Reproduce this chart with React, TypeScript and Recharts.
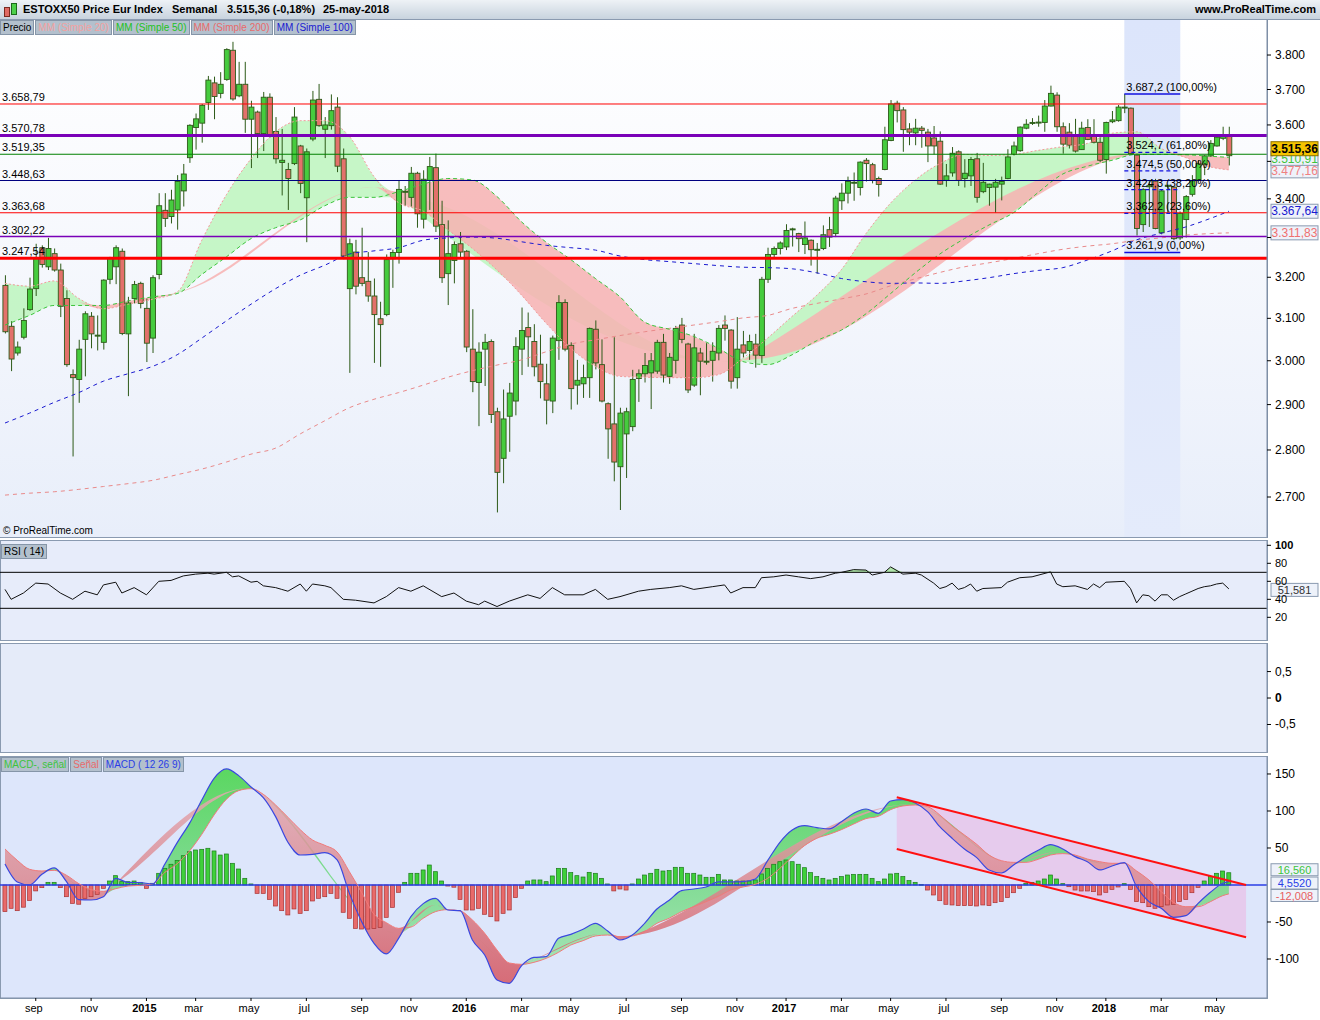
import React from "react";
import {
  ComposedChart,
  Bar,
  Line,
  Area,
  XAxis,
  YAxis,
  ReferenceLine,
  ReferenceArea,
} from "recharts";

// weekly candles, index 0 = week of 28-jul-2014, 199 = week of 21-may-2018
const openP = [
  3180, 3081, 3018, 3055, 3121, 3172, 3274, 3226, 3259, 3218,
  3148, 2968, 2957, 3050, 3105, 3058, 3043, 3195, 3226, 3265,
  3063, 3148, 3185, 3124, 3053, 3207, 3370, 3354, 3371, 3421,
  3510, 3593, 3605, 3663, 3719, 3689, 3729, 3814, 3682, 3715,
  3616, 3636, 3576, 3678, 3582, 3497, 3478, 3494, 3542, 3403,
  3561, 3672, 3588, 3598, 3650, 3507, 3172, 3263, 3199, 3190,
  3154, 3099, 3109, 3246, 3262, 3419, 3404, 3468, 3347, 3449,
  3483, 3333, 3209, 3242, 3284, 3265, 3027, 2950, 3027, 3045,
  2884, 2782, 2874, 2908, 3027, 3078, 3045, 2992, 2947, 2908,
  3047, 3138, 3036, 2944, 2947, 2961, 3074, 2991, 2902, 2857,
  2764, 2835, 2851, 2959, 2970, 2972, 2976, 3043, 2964, 3001,
  3084, 3039, 2944, 3018, 2998, 3001, 3018, 3084, 3072, 2961,
  3037, 3024, 3039, 3012, 3195, 3257, 3272, 3276, 3320, 3310,
  3282, 3293, 3270, 3272, 3320, 3310, 3395, 3415, 3442, 3430,
  3503, 3491, 3454, 3478, 3557, 3661, 3642, 3589, 3578, 3591,
  3580, 3564, 3555, 3449, 3469, 3526, 3454, 3461, 3507, 3419,
  3430, 3431, 3439, 3454, 3519, 3529, 3591, 3605, 3606, 3607,
  3653, 3684, 3595, 3580, 3572, 3532, 3593, 3568, 3552, 3505,
  3609, 3612, 3648, 3647, 3517, 3333, 3432, 3447, 3312, 3433,
  3431, 3299, 3346, 3412, 3450, 3491, 3515, 3542, 3563, 3572,
];
const highP = [
  3205, 3093, 3045, 3124, 3199, 3284, 3280, 3299, 3272, 3234,
  3168, 2980, 3049, 3117, 3115, 3107, 3195, 3251, 3280, 3272,
  3152, 3191, 3189, 3148, 3205, 3415, 3415, 3424, 3463, 3493,
  3602, 3632, 3659, 3739, 3737, 3750, 3820, 3839, 3780, 3780,
  3668, 3640, 3693, 3689, 3622, 3589, 3496, 3650, 3545, 3535,
  3696, 3716, 3622, 3686, 3678, 3535, 3297, 3294, 3325, 3263,
  3197, 3140, 3257, 3269, 3450, 3434, 3485, 3472, 3476, 3512,
  3521, 3395, 3344, 3290, 3314, 3268, 3122, 3043, 3063, 3050,
  2893, 2934, 2949, 3055, 3126, 3114, 3086, 3061, 2993, 3059,
  3156, 3146, 3043, 3002, 2991, 3078, 3095, 3050, 2905, 3055,
  2893, 2893, 2979, 2980, 3018, 3018, 3049, 3063, 3018, 3082,
  3101, 3042, 3063, 3030, 3041, 3043, 3084, 3107, 3074, 3103,
  3070, 3061, 3063, 3201, 3274, 3277, 3290, 3334, 3325, 3312,
  3341, 3295, 3286, 3331, 3353, 3408, 3441, 3459, 3470, 3500,
  3509, 3496, 3459, 3595, 3670, 3668, 3650, 3605, 3617, 3597,
  3589, 3597, 3582, 3493, 3539, 3530, 3506, 3512, 3523, 3496,
  3440, 3453, 3459, 3533, 3554, 3596, 3616, 3619, 3626, 3670,
  3711, 3692, 3607, 3605, 3617, 3609, 3616, 3616, 3570, 3609,
  3639, 3656, 3687, 3649, 3521, 3428, 3450, 3453, 3424, 3437,
  3432, 3367, 3410, 3463, 3503, 3517, 3558, 3570, 3595, 3595,
];
const lowP = [
  3064, 2976, 3012, 3050, 3118, 3154, 3224, 3218, 3214, 3103,
  2986, 2786, 2904, 2964, 3029, 3024, 3026, 3183, 3183, 3060,
  2919, 3136, 3124, 2997, 3018, 3195, 3327, 3336, 3320, 3380,
  3496, 3532, 3551, 3642, 3616, 3675, 3725, 3668, 3678, 3578,
  3482, 3509, 3528, 3565, 3494, 3409, 3371, 3490, 3415, 3288,
  3555, 3595, 3509, 3587, 3471, 3245, 2972, 3158, 3178, 3140,
  2995, 2986, 3105, 3174, 3234, 3382, 3380, 3325, 3323, 3371,
  3314, 3186, 3132, 3185, 3246, 3020, 2928, 2852, 2942, 2859,
  2668, 2729, 2796, 2876, 2967, 2986, 2964, 2914, 2856, 2881,
  3002, 3022, 2889, 2900, 2915, 2915, 2980, 2905, 2781, 2733,
  2673, 2740, 2841, 2906, 2950, 2890, 2970, 2950, 2947, 2970,
  3041, 2926, 2940, 2921, 2991, 2952, 3001, 3047, 2936, 2936,
  3007, 3002, 2984, 2995, 3186, 3246, 3257, 3268, 3277, 3263,
  3258, 3229, 3209, 3268, 3276, 3301, 3371, 3388, 3395, 3409,
  3446, 3441, 3406, 3476, 3555, 3607, 3526, 3544, 3544, 3537,
  3498, 3519, 3437, 3432, 3459, 3434, 3430, 3434, 3390, 3415,
  3382, 3364, 3396, 3452, 3516, 3526, 3588, 3600, 3595, 3581,
  3652, 3581, 3521, 3535, 3524, 3531, 3558, 3549, 3498, 3467,
  3605, 3609, 3633, 3519, 3305, 3314, 3327, 3321, 3308, 3363,
  3293, 3294, 3300, 3406, 3446, 3463, 3512, 3540, 3558, 3489,
];
const closeP = [
  3068, 3004, 3032, 3095, 3171, 3248, 3232, 3272, 3218, 3129,
  2991, 2961, 3027, 3111, 3063, 3060, 3193, 3248, 3274, 3064,
  3137, 3182, 3136, 3041, 3199, 3382, 3349, 3397, 3446, 3466,
  3599, 3617, 3655, 3727, 3680, 3715, 3816, 3673, 3715, 3616,
  3650, 3576, 3678, 3570, 3507, 3503, 3454, 3622, 3441, 3526,
  3670, 3598, 3600, 3640, 3487, 3253, 3284, 3178, 3185, 3154,
  3109, 3085, 3244, 3262, 3425, 3420, 3468, 3361, 3452, 3486,
  3329, 3199, 3259, 3282, 3263, 3032, 2952, 3020, 3043, 2878,
  2752, 2868, 2926, 3033, 3071, 3056, 2986, 2952, 2910, 3053,
  3138, 3027, 2936, 2955, 2961, 3076, 2995, 2908, 2846, 2774,
  2881, 2884, 2957, 2970, 2989, 3000, 3043, 2967, 3008, 3076,
  3050, 2933, 3030, 2999, 2999, 3022, 3076, 3076, 2953, 3027,
  3018, 3045, 3013, 3195, 3257, 3272, 3286, 3318, 3322, 3297,
  3299, 3269, 3270, 3307, 3301, 3402, 3415, 3446, 3444, 3498,
  3494, 3449, 3438, 3559, 3659, 3640, 3587, 3580, 3591, 3585,
  3542, 3542, 3439, 3461, 3522, 3449, 3468, 3505, 3404, 3444,
  3439, 3444, 3446, 3512, 3542, 3594, 3602, 3607, 3608, 3653,
  3689, 3595, 3547, 3544, 3528, 3591, 3560, 3552, 3503, 3607,
  3614, 3650, 3650, 3521, 3323, 3425, 3435, 3323, 3421, 3436,
  3297, 3362, 3406, 3448, 3494, 3515, 3549, 3566, 3570, 3515.36,
];

// moving averages, read every 4 weeks
const maIdx = [
  0, 4, 8, 12, 16, 20, 24, 28, 32, 36, 40, 44, 48, 52, 56, 60, 64, 68, 72, 76,
  80, 84, 88, 92, 96, 100, 104, 108, 112, 116, 120, 124, 128, 132, 136, 140,
  144, 148, 152, 156, 160, 164, 168, 172, 176, 180, 184, 188, 192, 196, 199,
];
const mm20 = [
  3185, 3178, 3191, 3148, 3123, 3134, 3146, 3164, 3293, 3411, 3507, 3581, 3612,
  3612, 3568, 3459, 3390, 3368, 3320, 3272, 3218, 3156, 3088, 3029, 2987, 2964,
  2962, 2961, 2961, 2968, 3006, 3053, 3105, 3156, 3219, 3310, 3389, 3450, 3494,
  3519, 3516, 3519, 3530, 3540, 3549, 3577, 3581, 3535, 3510, 3485, 3477.16,
];
const mm50 = [
  3084, 3107, 3131, 3131, 3131, 3142, 3152, 3160, 3207, 3251, 3297, 3325, 3345,
  3382, 3404, 3404, 3419, 3439, 3454, 3450, 3406, 3340, 3288, 3244, 3197, 3152,
  3091, 3074, 3057, 3029, 2998, 2991, 3014, 3047, 3072, 3111, 3160, 3211, 3258,
  3297, 3332, 3364, 3417, 3466, 3487, 3503, 3519, 3519, 3518, 3514, 3510.91,
];
const mm100 = [
  2859, 2881, 2905, 2927, 2953, 2970, 2987, 3014, 3053, 3094, 3134, 3172, 3205,
  3230, 3258, 3266, 3274, 3293, 3299, 3301, 3298, 3289, 3280, 3274, 3268, 3253,
  3244, 3239, 3234, 3229, 3225, 3224, 3221, 3211, 3197, 3189, 3185, 3186, 3185,
  3191, 3199, 3209, 3217, 3224, 3243, 3266, 3294, 3311, 3327, 3349, 3367.64,
];
const mm200 = [
  2704, 2708, 2711, 2716, 2722, 2728, 2735, 2747, 2759, 2774, 2791, 2804, 2835,
  2864, 2893, 2912, 2927, 2944, 2962, 2977, 2990, 3002, 3021, 3039, 3049, 3059,
  3068, 3076, 3084, 3092, 3101, 3107, 3124, 3136, 3147, 3159, 3179, 3196, 3212,
  3226, 3236, 3247, 3259, 3270, 3278, 3284, 3293, 3299, 3306, 3310, 3311.83,
];

// RSI(14)
const rsiIdx = [
  0, 1, 3, 5, 7, 9, 11, 13, 15, 16, 18, 19, 21, 23, 25, 27, 29, 31, 33, 34, 36,
  37, 38, 40, 41, 42, 44, 45, 46, 48, 49, 50, 52, 53, 55, 57, 60, 62, 64, 66,
  68, 71, 73, 75, 77, 78, 80, 82, 85, 87, 89, 91, 94, 96, 98, 100, 103, 105,
  108, 110, 112, 115, 117, 118, 120, 122, 123, 125, 127, 129, 131, 133, 135,
  136, 138, 140, 141, 143, 144, 146, 148, 149, 151, 152, 153, 154, 155, 156,
  157, 158, 159, 162, 163, 165, 167, 170, 171, 172, 174, 176, 177, 178, 179,
  182, 183, 184, 185, 186, 187, 188, 189, 190, 191, 192, 193, 194, 195, 196,
  197, 198, 199,
];
const rsiVal = [
  51, 40, 47, 58, 57, 47, 40, 49, 45, 56, 59, 47, 53, 45, 60, 61, 66, 68, 69,
  68, 70, 65, 66, 59, 60, 55, 53, 51, 49, 57, 49, 57, 55, 53, 40, 39, 36, 43,
  53, 49, 55, 43, 47, 38, 34, 38, 32, 38, 45, 41, 53, 45, 45, 51, 40, 43, 49,
  51, 53, 55, 51, 54, 56, 47, 53, 53, 64, 65, 67, 65, 63, 65, 69, 70, 73,
  72.5, 67, 70, 76, 68, 69, 67, 58, 52, 54, 58, 51, 53, 57, 49, 52, 53, 59, 64,
  65, 70.5, 57, 54, 55, 51, 57, 53, 59, 60, 52, 36, 45, 44, 38, 45, 45, 39, 43,
  46, 49, 52, 54, 55, 57, 58, 51.58,
];

// MACD(12,26,9), lines read every 2 weeks
const macdIdx = [
  0, 2, 4, 6, 8, 10, 12, 14, 16, 18, 20, 22, 24, 26, 28, 30, 32, 34, 36, 38,
  40, 42, 44, 46, 48, 50, 52, 54, 56, 58, 60, 62, 64, 66, 68, 70, 72, 74, 76,
  78, 80, 82, 84, 86, 88, 90, 92, 94, 96, 98, 100, 102, 104, 106, 108, 110,
  112, 114, 116, 118, 120, 122, 124, 126, 128, 130, 132, 134, 136, 138, 140,
  142, 144, 146, 148, 150, 152, 154, 156, 158, 160, 162, 164, 166, 168, 170,
  172, 174, 176, 178, 180, 182, 184, 186, 188, 190, 192, 194, 196, 198, 199,
];
const macdLine = [
  28.4, 4.1, 0, 14.4, 23, 4.5, -19.8, -20.3, -15.8, 9, 3.6, 3.2, 1.4, 28.4,
  57.2, 83.3, 114.9, 144.2, 156.8, 147.8, 132.5, 118, 92.4, 57.7, 40.5, 41.4,
  43.7, 33.8, -11.3, -49.6, -78.8, -93.2, -72.1, -42.8, -25.2, -18, -33.8,
  -34.7, -74.3, -94.6, -128.4, -132.9, -109, -97.8, -96.9, -72.1, -66.7, -59.9,
  -51.8, -62.2, -74.3, -67.6, -51.8, -32.4, -20.7, -7.7, -5.4, -2.7, 4.1, 4.1,
  4.5, 8.1, 32.9, 57.7, 74.3, 80.2, 77.5, 75.7, 85.6, 96.9, 102.7, 96.9, 113.5,
  115.3, 110.8, 99.1, 78.8, 63.1, 48.7, 37, 20.3, 16.2, 27, 37.8, 46.9, 54.5,
  48.7, 38.3, 31.5, 20.3, 25.7, 30.2, -2.3, -22.5, -31.5, -43.7, -41.4, -24.8,
  -9.9, 2.3, 4.552,
];
const signalLine = [
  48.7, 33.3, 21.2, 18.9, 19.8, 13.1, 1.8, -6.3, -8.6, -5, -1.4, -0.5, 1.4,
  17.1, 28.8, 45.9, 68.5, 94.6, 115.8, 127.5, 130.2, 122.5, 108.1, 91.5, 74.8,
  60.8, 53.6, 44.6, 18, -10.4, -39.6, -50.9, -58.6, -56.8, -45, -36, -33.3,
  -35.1, -47.3, -65.3, -87.8, -105.4, -107.2, -104.5, -99.1, -91, -81.1, -75.2,
  -68.9, -67.6, -69.8, -68.9, -63.1, -51.8, -45, -36, -29.3, -22.5, -15.3,
  -6.8, -2.7, 0.9, 9, 22.5, 38.3, 53.2, 63.1, 68.5, 74.8, 82.4, 89.7, 92.8,
  101.8, 106.8, 108.1, 105.9, 94.6, 79.7, 67.6, 55, 40.5, 32.9, 30.6, 30.6,
  34.7, 40.5, 42.4, 40.5, 35.1, 31.5, 29.3, 29.3, 18.9, 6.8, -9, -23.4, -29.3,
  -29.3, -22.5, -14.4, -12.008,
];
const macdHist = [
  -36, -31.5, -34.7, -30, -21, -8, -3.6, 3.6, 3.6, -3.6,
  -15.8, -24.8, -26, -18, -15.8, -12.6, -4.5, 5.4, 12.6, 4.5,
  4.5, 5.4, 3.6, -4.5, 2.3, 15.8, 22.5, 28, 33.3, 39.6,
  45, 47.3, 48.2, 49.6, 46, 40.5, 41.9, 29.3, 21.6, 9,
  1.4, -11.3, -11.3, -19.4, -28.4, -34.7, -40.5, -32.4, -38.3, -34.7,
  -21.6, -18, -15.8, -11.3, -18, -36.9, -45, -58.6, -59.5, -59.5,
  -58.6, -57.2, -43.7, -30.2, -9.9, 3.6, 15.8, 15.8, 20.3, 27,
  18, 5.4, -1.4, -3, -19.4, -33.8, -33.8, -31.5, -39.6, -42.8,
  -48.6, -38.3, -33.8, -17, -4.5, 5.4, 6.8, 6.8, 4.5, 12.2,
  22.5, 22.5, 16.7, 12.6, 10.8, 17.1, 15.8, 9, 1.4, -8,
  -5.4, -6.8, 1.4, 8.1, 13.5, 15.8, 21.2, 18.9, 19.4, 23.9,
  23.9, 15.8, 15.8, 13.5, 10.4, 10.4, 14.4, 6.8, 6.8, 5.4,
  5.4, 5.4, 6.8, 14.9, 22.5, 28, 31.5, 33.8, 31.5, 28,
  23.4, 16.7, 11.3, 9, 6.8, 9, 11.3, 13.5, 14.4, 14.4,
  14.4, 9, 4.5, 8.1, 14.9, 15.8, 11.3, 5.9, 3.6, 0.5,
  -6.8, -13.5, -21.2, -26.1, -27, -27.9, -27.9, -27.9, -28.4, -27,
  -27.9, -23.9, -22.5, -17.1, -10.4, -4.5, 2.3, 3.6, 5.4, 8.1,
  13.5, 8.1, 1.8, -2.3, -6.8, -8.1, -8.1, -9, -13.5, -9.9,
  -5.9, -2.7, 1.8, -5.9, -22.5, -23.9, -29.3, -31.5, -29.3, -27,
  -26.1, -22.5, -19.4, -10.4, -3.2, 5.4, 11.3, 15.8, 18.9, 16.56,
];

// descending channel drawn on the MACD (index, value)
const chanX = [145, 201.8];
const chanUpper = [118.5, 0];
const chanLower = [48.6, -70.7];

// drawn levels on the price panel
const levels = [3658.79, 3570.78, 3519.35, 3448.63, 3363.68, 3302.22, 3247.54];
const levelColor = ["#ff0000", "#7a00b8", "#008000", "#000080", "#ff0000", "#7a00b8", "#ff0000"];
const levelWidth = [1, 3, 1.2, 1, 1.2, 1.5, 3];

// Fibonacci retracement (drawn between weeks 182 and 191)
const fibX = [182, 191.1];
const fibVals = [3687.2, 3524.7, 3474.5, 3424.3, 3362.2, 3261.9];
const fibPct = ["100,00", "61,80", "50,00", "38,20", "23,60", "0,00"];

const priceTicks = [2700, 2800, 2900, 3000, 3100, 3200, 3300, 3400, 3500, 3600, 3700, 3800];
const priceHidden = [3300, 3500]; // covered by the value boxes
const rsiTicks = [20, 40, 60, 80, 100];
const macdTicks = [-100, -50, 50, 100, 150];

const monthIdx = [5, 14, 23, 31, 40, 49, 58, 66, 75, 84, 92, 101, 110, 119, 127, 136, 144, 153, 162, 171, 179, 188, 197];
const monthLbl = ["sep", "nov", "2015", "mar", "may", "jul", "sep", "nov", "2016", "mar", "may", "jul", "sep", "nov", "2017", "mar", "may", "jul", "sep", "nov", "2018", "mar", "may"];

const FONT = '"Liberation Sans", Arial, sans-serif';
const X_DOM: [number, number] = [-0.813, 205.2];
const W = 1320;
const AXW = 53;

const fmtEs = (v: number, dec: number) => {
  const [a, b] = v.toFixed(dec).split(".");
  const neg = a.startsWith("-");
  const d = neg ? a.slice(1) : a;
  const int = d.replace(/\B(?=(\d{3})+(?!\d))/g, ".");
  return (neg ? "-" : "") + int + (b ? "," + b : "");
};

// fill bands between two lines; taper to the midpoint next to a crossing
function bands(a: number[], b: number[]) {
  const d = a.map((v, k) => v - b[k]);
  const n = a.length;
  return a.map((v, k) => {
    const mid = (v + b[k]) / 2;
    const up = d[k] >= 0;
    const nbUp = (k > 0 && d[k - 1] >= 0) || (k < n - 1 && d[k + 1] >= 0);
    const nbDn = (k > 0 && d[k - 1] < 0) || (k < n - 1 && d[k + 1] < 0);
    return {
      g: up ? [b[k], v] : nbUp ? [mid, mid] : null,
      r: !up ? [v, b[k]] : nbDn ? [mid, mid] : null,
    };
  });
}

const maBands = bands(mm20, mm50);
const priceData = openP.map((o, i) => ({
  i,
  range: [lowP[i], highP[i]],
  o,
  h: highP[i],
  l: lowP[i],
  c: closeP[i],
}));
maIdx.forEach((ix, k) => {
  Object.assign(priceData[ix], {
    mm20: mm20[k],
    mm50: mm50[k],
    mm100: mm100[k],
    mm200: mm200[k],
    gBand: maBands[k].g,
    rBand: maBands[k].r,
  });
});

const rsiData: any[] = rsiIdx.map((ix, k) => ({ i: ix, rsi: rsiVal[k] }));
rsiData.forEach((row, k) => {
  const over = (v: number) => v > 70;
  const v = row.rsi;
  const prev = rsiData[k - 1]?.rsi ?? 0;
  const next = rsiData[k + 1]?.rsi ?? 0;
  if (over(v)) row.ob = [70, v];
  else if (over(prev) || over(next)) row.ob = [70, 70];
});

const macdBands = bands(macdLine, signalLine);
const macdData: any[] = macdHist.map((h, i) => ({ i, hist: h }));
macdIdx.forEach((ix, k) => {
  Object.assign(macdData[ix], {
    macd: macdLine[k],
    sig: signalLine[k],
    gB: macdBands[k].g,
    rB: macdBands[k].r,
  });
});
macdData.push({ i: chanX[1] });
[0, 1].forEach((k) => {
  const row = macdData[k === 0 ? chanX[0] : macdData.length - 1];
  row.ch = [chanLower[k], chanUpper[k]];
  row.chU = chanUpper[k];
  row.chL = chanLower[k];
});

const emptyData = [{ i: 0, z: 0 }, { i: 199, z: 0 }];

// ---- shapes ----
const Candle = (p: any) => {
  const { x, y, width, height, payload } = p;
  if (!payload || height == null || isNaN(y)) return null;
  const top = Math.min(y, y + height);
  const bot = Math.max(y, y + height);
  const cx = x + width / 2;
  const lh = Math.log(payload.h);
  const ll = Math.log(payload.l);
  const py = (v: number) => top + ((lh - Math.log(v)) / (lh - ll)) * (bot - top);
  const yo = py(payload.o);
  const yc = py(payload.c);
  const up = payload.c >= payload.o;
  const bt = Math.min(yo, yc);
  const bh = Math.max(1, Math.abs(yc - yo));
  return (
    <g>
      <line x1={cx} x2={cx} y1={top} y2={bot} stroke="#2d5a18" strokeWidth={1} />
      <rect x={cx - 2.5} y={bt} width={5} height={bh} fill={up ? "#46cc3e" : "#e3716b"} stroke="#2d5a18" strokeWidth={0.9} />
    </g>
  );
};

const HistBar = (p: any) => {
  const { x, y, width, height, payload } = p;
  if (!payload || payload.hist == null || isNaN(y)) return null;
  const top = Math.min(y, y + height);
  const h = Math.max(0.6, Math.abs(height));
  const up = payload.hist >= 0;
  return (
    <rect x={x + width / 2 - 2} y={top} width={4} height={h} fill={up ? "#3fd03a" : "#e86a6a"} stroke={up ? "#1b7a1b" : "#a83232"} strokeWidth={0.7} />
  );
};

const LevelLabel = (p: any) => {
  const vb = p.viewBox || {};
  return (
    <text x={(vb.x ?? 0) + 2} y={(vb.y ?? 0) - 3} fontSize={11} fill="#000" fontFamily={FONT}>
      {p.text}
    </text>
  );
};

const ValBox = (p: any) => {
  const vb = p.viewBox || {};
  const right = (vb.x ?? 0) + (vb.width ?? 0);
  const cy = (vb.y ?? 0) + (p.dy || 0);
  const h = p.h || 14;
  return (
    <g>
      <rect x={right + 4} y={cy - h / 2} width={47} height={h} fill={p.bg} stroke={p.border} strokeWidth={1} />
      <text x={right + 27.5} y={cy + 4.2} textAnchor="middle" fontSize={p.fs || 12} fill={p.color} fontWeight={p.bold ? 700 : 400} fontFamily={FONT}>
        {p.text}
      </text>
    </g>
  );
};

const DateTick = (p: any) => {
  const { x, y, payload } = p;
  const k = monthIdx.indexOf(payload.value);
  const lbl = monthLbl[k] ?? "";
  const yr = /^\d{4}$/.test(lbl);
  return (
    <text x={x - 2} y={y + 9} textAnchor="middle" fontSize={11} fontWeight={yr ? 700 : 400} fill="#000" fontFamily={FONT}>
      {lbl}
    </text>
  );
};

const AxTick = (p: any) => {
  const { x, y, payload } = p;
  if (p.hideAt && p.hideAt.includes(payload.value)) return null;
  return (
    <text x={x + 2} y={y + 4} fontSize={p.fs || 12} fill="#000" fontWeight={p.boldAt === payload.value ? 700 : 400} fontFamily={FONT}>
      {p.fmt ? p.fmt(payload.value) : payload.value}
    </text>
  );
};

const boxStyle = (color: string): React.CSSProperties => ({
  display: "inline-block",
  height: 13,
  lineHeight: "13px",
  padding: "0 2px",
  fontSize: 10,
  color,
  background: "#b3c0cd",
  border: "1px solid #8595a8",
  marginRight: 1,
  whiteSpace: "nowrap",
});

const hdr: React.CSSProperties = { position: "absolute", top: 3, fontSize: 11, fontWeight: 700, whiteSpace: "nowrap" };

export default function App() {
  const margin = { top: 0, right: 0, bottom: 0, left: 0 };
  return (
    <div style={{ position: "absolute", left: 0, top: 0, width: W, height: 1020, background: "#fff", fontFamily: FONT, overflow: "hidden" }}>
      {/* header */}
      <div style={{ position: "absolute", left: 0, top: 0, width: W, height: 19, background: "linear-gradient(#eef2f6, #c8d3de)", borderBottom: "1px solid #8a9ab0" }}>
        <div style={{ position: "absolute", left: 4, top: 7, width: 4, height: 8, background: "#e06a64", border: "1px solid #7a2a20" }} />
        <div style={{ position: "absolute", left: 11, top: 3, width: 4, height: 10, background: "#4cd04a", border: "1px solid #1c6a1c" }} />
        <span style={{ ...hdr, left: 23 }}>ESTOXX50 Price Eur Index</span>
        <span style={{ ...hdr, left: 172 }}>Semanal</span>
        <span style={{ ...hdr, left: 227 }}>3.515,36 (-0,18%)</span>
        <span style={{ ...hdr, left: 323 }}>25-may-2018</span>
        <span style={{ ...hdr, right: 4 }}>www.ProRealTime.com</span>
      </div>

      {/* panel backgrounds */}
      <div style={{ position: "absolute", left: 0, top: 20, width: 1267, height: 517, background: "linear-gradient(#ffffff 0%, #f6f8fd 45%, #e8eefa 100%)", borderRight: "1px solid #7f8fa6", borderBottom: "1px solid #8a9ab0" }} />
      <div style={{ position: "absolute", left: 0, top: 540, width: 1266, height: 99, background: "#e7ecfa", border: "1px solid #8a9ab0" }} />
      <div style={{ position: "absolute", left: 0, top: 643, width: 1266, height: 108, background: "#e5ebf9", border: "1px solid #8a9ab0" }} />
      <div style={{ position: "absolute", left: 0, top: 756, width: 1266, height: 241, background: "#dde6fb", border: "1px solid #8a9ab0" }} />

      {/* price panel */}
      <div style={{ position: "absolute", left: 0, top: 20 }}>
        <ComposedChart width={W} height={517} data={priceData} margin={margin}>
          <defs>
            <linearGradient id="fibBand" x1="0" y1="0" x2="0" y2="1">
              <stop offset="0%" stopColor="#dce5fb" />
              <stop offset="100%" stopColor="#e4ebfb" />
            </linearGradient>
          </defs>
          <XAxis type="number" dataKey="i" domain={X_DOM} allowDataOverflow hide />
          <YAxis
            yAxisId={0}
            orientation="right"
            width={AXW}
            type="number"
            scale="log"
            domain={[2617.8, 3904.3]}
            allowDataOverflow
            ticks={priceTicks}
            interval={0}
            tick={<AxTick fmt={(v: number) => fmtEs(v, 0)} hideAt={priceHidden} />}
            tickSize={4}
            tickLine={{ stroke: "#000" }}
            axisLine={{ stroke: "#7f8fa6" }}
          />
          <ReferenceArea x1={fibX[0]} x2={fibX[1]} fill="url(#fibBand)" fillOpacity={1} stroke="none" ifOverflow="hidden" />
          <Area dataKey="gBand" type="monotone" stroke="none" fill="#b9f5b9" fillOpacity={0.8} connectNulls isAnimationActive={false} />
          <Area dataKey="rBand" type="monotone" stroke="none" fill="#f7b2b2" fillOpacity={0.85} connectNulls isAnimationActive={false} />
          <Line dataKey="mm200" type="monotone" stroke="#e98a8a" strokeWidth={1} strokeDasharray="4 4" dot={false} connectNulls isAnimationActive={false} />
          <Line dataKey="mm100" type="monotone" stroke="#1a1ad0" strokeWidth={1} strokeDasharray="4 4" dot={false} connectNulls isAnimationActive={false} />
          <Line dataKey="mm50" type="monotone" stroke="#3cc43c" strokeWidth={1} strokeDasharray="4 3" dot={false} connectNulls isAnimationActive={false} />
          <Line dataKey="mm20" type="monotone" stroke="#f29a9a" strokeWidth={1} strokeDasharray="2 2" dot={false} connectNulls isAnimationActive={false} />
          {levels.map((lv, k) => (
            <ReferenceLine
              key={"lv" + k}
              y={lv}
              stroke={levelColor[k]}
              strokeWidth={levelWidth[k]}
              label={<LevelLabel text={fmtEs(lv, 2)} />}
            />
          ))}
          {fibVals.map((fv, k) => (
            <ReferenceLine
              key={"fib" + k}
              segment={[{ x: fibX[0], y: fv }, { x: fibX[1], y: fv }]}
              stroke="#1010e0"
              strokeWidth={k === 0 || k === fibVals.length - 1 ? 1.5 : 1.3}
              strokeDasharray={k === 0 || k === fibVals.length - 1 ? undefined : "4 3"}
              label={<LevelLabel text={`${fmtEs(fv, 1)} (${fibPct[k]}%)`} />}
            />
          ))}
          <Bar dataKey="range" barSize={5} shape={Candle} isAnimationActive={false} />
          <ReferenceLine y={3311.83} stroke="none" label={<ValBox text="3.311,83" color="#f07070" bg="#eef2fa" border="#8a9ab0" />} />
          <ReferenceLine y={3367.64} stroke="none" label={<ValBox text="3.367,64" color="#1a1ad0" bg="#eef2fa" border="#8a9ab0" />} />
          <ReferenceLine y={3477.16} stroke="none" label={<ValBox text="3.477,16" color="#f08080" bg="#eef2fa" border="#8a9ab0" dy={1} />} />
          <ReferenceLine y={3510.91} stroke="none" label={<ValBox text="3.510,91" color="#3cc43c" bg="#eef2fa" border="#8a9ab0" dy={1} />} />
          <ReferenceLine y={3515.36} stroke="none" label={<ValBox text="3.515,36" color="#000" bg="#f5c400" border="#8a7000" dy={-7} bold />} />
        </ComposedChart>
      </div>

      {/* RSI panel */}
      <div style={{ position: "absolute", left: 0, top: 540 }}>
        <ComposedChart width={W} height={100} data={rsiData} margin={margin}>
          <XAxis type="number" dataKey="i" domain={X_DOM} allowDataOverflow hide />
          <YAxis
            orientation="right"
            width={AXW}
            type="number"
            domain={[-5.2, 105.9]}
            allowDataOverflow
            ticks={rsiTicks}
            interval={0}
            tick={<AxTick fs={11} boldAt={100} />}
            tickSize={4}
            tickLine={{ stroke: "#000" }}
            axisLine={{ stroke: "#7f8fa6" }}
          />
          <Area dataKey="ob" type="linear" stroke="none" fill="#a8e4a0" fillOpacity={0.9} connectNulls={false} isAnimationActive={false} />
          <ReferenceLine y={70} stroke="#000" strokeWidth={1} />
          <ReferenceLine y={30} stroke="#000" strokeWidth={1} />
          <Line dataKey="rsi" type="linear" stroke="#111" strokeWidth={1} dot={false} connectNulls isAnimationActive={false} />
          <ReferenceLine y={51.581} stroke="none" label={<ValBox text="51,581" color="#333" bg="#eef2fa" border="#8a9ab0" h={13} fs={11} dy={1} />} />
        </ComposedChart>
      </div>

      {/* empty panel */}
      <div style={{ position: "absolute", left: 0, top: 643 }}>
        <ComposedChart width={W} height={109} data={emptyData} margin={margin}>
          <XAxis type="number" dataKey="i" domain={X_DOM} allowDataOverflow hide />
          <YAxis
            orientation="right"
            width={AXW}
            type="number"
            domain={[-1.02, 1.04]}
            allowDataOverflow
            ticks={[-0.5, 0, 0.5]}
            interval={0}
            tick={<AxTick fs={12} boldAt={0} fmt={(v: number) => String(v).replace(".", ",")} />}
            tickSize={4}
            tickLine={{ stroke: "#000" }}
            axisLine={{ stroke: "#7f8fa6" }}
          />
          <Line dataKey="z" stroke="#000" strokeOpacity={0} dot={false} isAnimationActive={false} />
        </ComposedChart>
      </div>

      {/* MACD panel + date axis */}
      <div style={{ position: "absolute", left: 0, top: 756 }}>
        <ComposedChart width={W} height={264} data={macdData} margin={margin}>
          <defs>
            <linearGradient id="macdGreen" x1="0" y1="0" x2="0" y2="242" gradientUnits="userSpaceOnUse">
              <stop offset="0%" stopColor="#3fd43f" />
              <stop offset="45%" stopColor="#6ad87a" />
              <stop offset="100%" stopColor="#a8e6b8" />
            </linearGradient>
            <linearGradient id="macdRed" x1="0" y1="0" x2="0" y2="242" gradientUnits="userSpaceOnUse">
              <stop offset="0%" stopColor="#e6b4bc" />
              <stop offset="50%" stopColor="#dc8a92" />
              <stop offset="100%" stopColor="#d4505a" />
            </linearGradient>
          </defs>
          <XAxis
            type="number"
            dataKey="i"
            domain={X_DOM}
            allowDataOverflow
            ticks={monthIdx}
            interval={0}
            tick={<DateTick />}
            tickSize={3}
            tickLine={{ stroke: "#000" }}
            axisLine={{ stroke: "#7f8fa6" }}
            height={22}
          />
          <YAxis
            orientation="right"
            width={AXW}
            type="number"
            domain={[-152.7, 174.3]}
            allowDataOverflow
            ticks={macdTicks}
            interval={0}
            tick={<AxTick fs={12} />}
            tickSize={4}
            tickLine={{ stroke: "#000" }}
            axisLine={{ stroke: "#7f8fa6" }}
          />
          <Area dataKey="ch" type="linear" stroke="none" fill="#e8c6ea" fillOpacity={0.85} connectNulls isAnimationActive={false} />
          <Bar dataKey="hist" barSize={4} shape={HistBar} isAnimationActive={false} />
          <Area dataKey="gB" type="monotone" stroke="none" fill="url(#macdGreen)" fillOpacity={0.85} connectNulls isAnimationActive={false} />
          <Area dataKey="rB" type="monotone" stroke="none" fill="url(#macdRed)" fillOpacity={0.85} connectNulls isAnimationActive={false} />
          <ReferenceLine y={0} stroke="#2a3ee6" strokeWidth={1.5} />
          <Line dataKey="sig" type="monotone" stroke="#f07a7a" strokeWidth={1} dot={false} connectNulls isAnimationActive={false} />
          <Line dataKey="macd" type="monotone" stroke="#3a48e0" strokeWidth={1.2} dot={false} connectNulls isAnimationActive={false} />
          <Line dataKey="chU" type="linear" stroke="#ff1010" strokeWidth={2} dot={false} connectNulls isAnimationActive={false} />
          <Line dataKey="chL" type="linear" stroke="#ff1010" strokeWidth={2} dot={false} connectNulls isAnimationActive={false} />
          <ReferenceLine y={-12.008} stroke="none" label={<ValBox text="-12,008" color="#e86060" bg="#eef2fa" border="#8a9ab0" h={12} fs={11} dy={1.6} />} />
          <ReferenceLine y={4.552} stroke="none" label={<ValBox text="4,5520" color="#2a3ee6" bg="#eef2fa" border="#8a9ab0" h={12} fs={11} dy={1.4} />} />
          <ReferenceLine y={16.56} stroke="none" label={<ValBox text="16,560" color="#3cc43c" bg="#eef2fa" border="#8a9ab0" h={12} fs={11} dy={-3} />} />
        </ComposedChart>
      </div>

      {/* legends / captions */}
      <div style={{ position: "absolute", left: 0, top: 20, display: "flex" }}>
        <span style={boxStyle("#000")}>Precio</span>
        <span style={boxStyle("#f4a0a0")}>MM (Simple 20)</span>
        <span style={boxStyle("#22c022")}>MM (Simple 50)</span>
        <span style={boxStyle("#e86a6a")}>MM (Simple 200)</span>
        <span style={boxStyle("#1a1ad0")}>MM (Simple 100)</span>
      </div>
      <div style={{ position: "absolute", left: 3, top: 525, fontSize: 10, color: "#000" }}>© ProRealTime.com</div>
      <div style={{ position: "absolute", left: 1, top: 541 }}>
        <span style={boxStyle("#000")}>RSI ( 14)</span>
      </div>
      <div style={{ position: "absolute", left: 1, top: 757, display: "flex" }}>
        <span style={boxStyle("#3cc43c")}>MACD-, señal</span>
        <span style={boxStyle("#e86a6a")}>Señal</span>
        <span style={boxStyle("#2a3ee6")}>MACD ( 12 26 9)</span>
      </div>
    </div>
  );
}
